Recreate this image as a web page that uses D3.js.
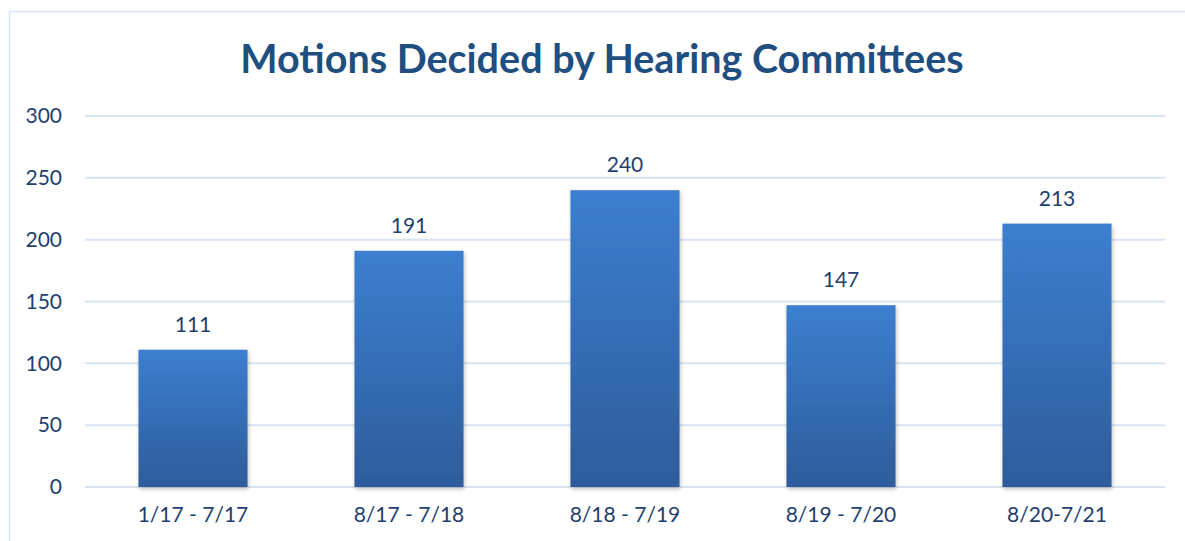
<!DOCTYPE html>
<html>
<head>
<meta charset="utf-8">
<script src="https://cdn.jsdelivr.net/npm/d3@7"></script>
<style>
  body { margin: 0; background: #fff; }
  text { font-family: Lato, "Open Sans", sans-serif; }
</style>
</head>
<body>
<script>
// data
var periods = ["1/17 - 7/17", "8/17 - 7/18", "8/18 - 7/19", "8/19 - 7/20", "8/20-7/21"];
var motions = [111, 191, 240, 147, 213];
var yTicks = [0, 50, 100, 150, 200, 250, 300];

var w = 1185, h = 541;
var margin = {top: 116, right: 20, bottom: 54, left: 85};
var graphWidth = 1165 - margin.left;
var graphHeight = h - margin.top - margin.bottom;

var svg = d3.select("body").append("svg")
  .attr("width", w)
  .attr("height", h);

var defs = svg.append("defs");
var grad = defs.append("linearGradient")
  .attr("id", "barGrad")
  .attr("x1", 0).attr("y1", 0).attr("x2", 0).attr("y2", 1);
grad.append("stop").attr("offset", "0%").attr("stop-color", "#3c7fcf");
grad.append("stop").attr("offset", "100%").attr("stop-color", "#2d5c9b");

var shadow = defs.append("filter").attr("id", "shadow")
  .attr("x", "-10%").attr("y", "-10%").attr("width", "125%").attr("height", "125%");
shadow.append("feDropShadow")
  .attr("dx", 1).attr("dy", 2).attr("stdDeviation", 2)
  .attr("flood-color", "#000").attr("flood-opacity", 0.25);

// chart frame
svg.append("rect")
  .attr("x", 9.5).attr("y", 11.5)
  .attr("width", w + 20).attr("height", h + 20)
  .attr("fill", "none")
  .attr("stroke", "#d9e3f2")
  .attr("stroke-width", 1.5);

// title
svg.append("text")
  .attr("x", 602).attr("y", 73)
  .attr("text-anchor", "middle")
  .attr("font-size", 39.5)
  .attr("font-weight", "bold")
  .attr("fill", "#1f4e80")
  .text("Motions Decided by Hearing Committees");

var graph = svg.append("g")
  .attr("transform", `translate(${margin.left}, ${margin.top})`);

var xScale = d3.scaleBand()
  .domain(periods)
  .range([0, graphWidth])
  .paddingInner(0.495)
  .paddingOuter(0.2475);

var yScale = d3.scaleLinear()
  .domain([0, 300])
  .range([graphHeight, 0]);

// gridlines
graph.selectAll(".grid")
  .data(yTicks)
  .enter().append("line")
  .attr("x1", 0).attr("x2", graphWidth)
  .attr("y1", d => yScale(d)).attr("y2", d => yScale(d))
  .attr("stroke", "#d9e3f2")
  .attr("stroke-width", 2);

// y axis labels
var yAxis = graph.append("g")
  .call(d3.axisLeft(yScale).tickValues(yTicks).tickSize(0).tickPadding(23));
yAxis.select(".domain").remove();
yAxis.selectAll("text")
  .attr("font-size", 21)
  .attr("fill", "#1f3f6e")
  .attr("font-family", "Lato, sans-serif");

// bars
graph.selectAll(".bar")
  .data(motions)
  .enter().append("rect")
  .attr("x", (d, i) => xScale(periods[i]))
  .attr("y", d => yScale(d))
  .attr("width", xScale.bandwidth())
  .attr("height", d => graphHeight - yScale(d))
  .attr("fill", "url(#barGrad)")
  .attr("filter", "url(#shadow)");

// value labels
graph.selectAll(".val")
  .data(motions)
  .enter().append("text")
  .attr("x", (d, i) => xScale(periods[i]) + xScale.bandwidth() / 2)
  .attr("y", d => yScale(d) - 18)
  .attr("text-anchor", "middle")
  .attr("font-size", 21)
  .attr("fill", "#1f3f6e")
  .text(d => d);

// x axis labels
var xAxis = graph.append("g")
  .attr("transform", `translate(0, ${graphHeight})`)
  .call(d3.axisBottom(xScale).tickSize(0).tickPadding(20));
xAxis.select(".domain").remove();
xAxis.selectAll("text")
  .attr("font-size", 21)
  .attr("fill", "#1f3f6e")
  .attr("font-family", "Lato, sans-serif");
</script>
</body>
</html>
